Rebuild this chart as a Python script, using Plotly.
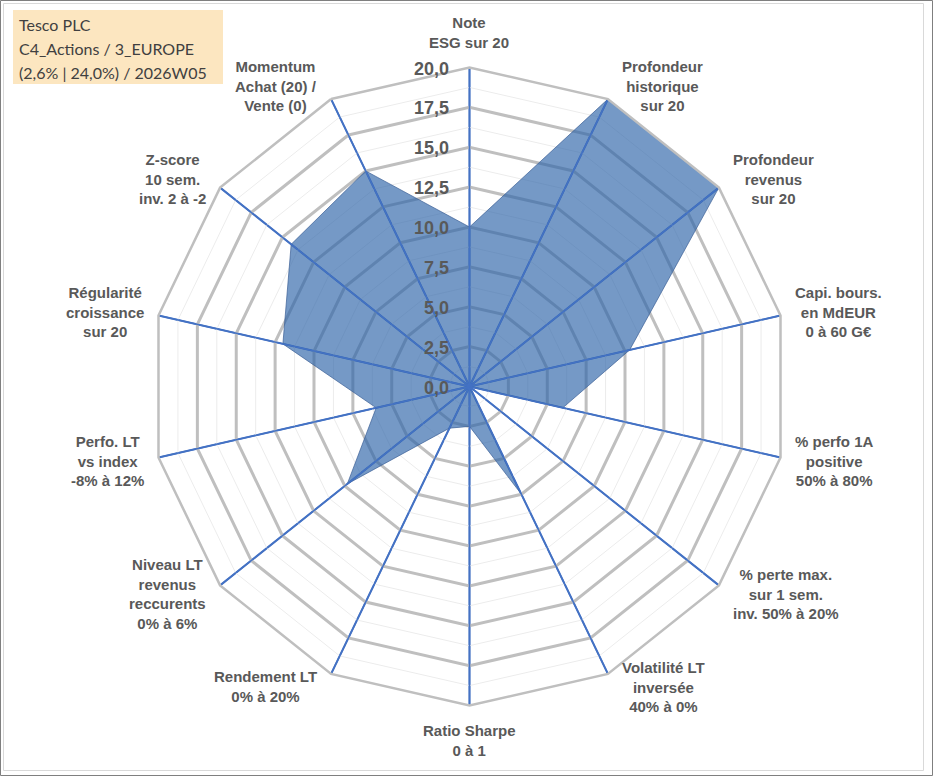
import math
import plotly.graph_objects as go

W, H = 933, 776

categories = [
    "Note<br>ESG sur 20",
    "Profondeur<br>historique<br>sur 20",
    "Profondeur<br>revenus<br>sur 20",
    "Capi. bours.<br>en MdEUR<br>0 à 60 G€",
    "% perfo 1A<br>positive<br>50% à 80%",
    "% perte max.<br>sur 1 sem.<br>inv. 50% à 20%",
    "Volatilité LT<br>inversée<br>40% à 0%",
    "Ratio Sharpe<br>0 à 1",
    "Rendement LT<br>0% à 20%",
    "Niveau LT<br>revenus<br>reccurents<br>0% à 6%",
    "Perfo. LT<br>vs index<br>-8% à 12%",
    "Régularité<br>croissance<br>sur 20",
    "Z-score<br>10 sem.<br>inv. 2 à -2",
    "Momentum<br>Achat (20) /<br>Vente (0)",
]
values = [10.0, 20.0, 20.0, 10.3, 6.0, 0.0, 7.5, 2.5, 2.9, 9.8, 6.0, 12.0, 14.3, 15.0]
radial_ticks = [0.0, 2.5, 5.0, 7.5, 10.0, 12.5, 15.0, 17.5, 20.0]
radial_tick_labels = ["0,0", "2,5", "5,0", "7,5", "10,0", "12,5", "15,0", "17,5", "20,0"]
minor_rings = [1.25, 3.75, 6.25, 8.75, 11.25, 13.75, 16.25, 18.75]
r_max = 20.0

title_lines = ["Tesco PLC", "C4_Actions / 3_EUROPE", "(2,6% | 24,0%) / 2026W05"]

fig = go.Figure()

# minor rings (thin light grey)
for rv in minor_rings:
    fig.add_trace(go.Scatterpolar(
        r=[rv] * (len(categories) + 1), theta=categories + categories[:1],
        mode="lines", line=dict(color="#ECECEC", width=1),
        hoverinfo="skip", showlegend=False))

# data polygon
fig.add_trace(go.Scatterpolar(
    r=values + values[:1], theta=categories + categories[:1],
    mode="lines", fill="toself",
    fillcolor="rgba(46,100,168,0.66)",
    line=dict(color="rgba(60,95,150,0.7)", width=1),
    hoverinfo="r+theta", showlegend=False))

# blue spokes on top
for c in categories:
    fig.add_trace(go.Scatterpolar(
        r=[0, r_max], theta=[c, c], mode="lines",
        line=dict(color="#4472C4", width=1.5),
        hoverinfo="skip", showlegend=False))

cx, cy, R = 469.5, 386.5, 319.0

annotations = []

# category labels placed just outside each spoke end (Excel-like, centred text)
label_font = dict(family="Liberation Sans", size=15, color="#595959", weight="bold")
N = len(categories)
for i, lab in enumerate(categories):
    th = 2 * math.pi * i / N
    sx, cu = math.sin(th), math.cos(th)
    vx, vy = cx + R * sx, cy - R * cu
    if abs(sx) < 0.01:
        x, xa = vx, "center"
        if cu > 0:
            y, ya = vy - 14, "bottom"
        else:
            y, ya = vy + 14, "top"
    else:
        x = vx + 12 * (1 if sx > 0 else -1)
        xa = "left" if sx > 0 else "right"
        y, ya = vy - 14 * cu, "middle"
    annotations.append(dict(
        xref="paper", yref="paper", x=x / W, y=1 - y / H,
        xanchor=xa, yanchor=ya, align="center", showarrow=False,
        text=lab, font=label_font))

# radial tick labels, left of the vertical spoke
for rv, txt in zip(radial_ticks, radial_tick_labels):
    y = cy - rv / r_max * R + 1
    annotations.append(dict(
        xref="paper", yref="paper", x=(cx - 19) / W, y=1 - y / H,
        xanchor="right", yanchor="middle", showarrow=False, text=txt,
        font=dict(family="Liberation Sans", size=18, color="#595959", weight="bold")))

# title box lines
for k, line in enumerate(title_lines):
    annotations.append(dict(
        xref="paper", yref="paper", x=17 / W, y=1 - (24 + 24 * k) / H,
        xanchor="left", yanchor="middle", align="left", showarrow=False,
        text=line, font=dict(family="Lato", size=16, color="#404040")))

fig.update_layout(
    width=W, height=H,
    margin=dict(l=0, r=0, t=0, b=0),
    paper_bgcolor="white",
    polar=dict(
        domain=dict(x=[(cx - R) / W, (cx + R) / W],
                    y=[(H - cy - R) / H, (H - cy + R) / H]),
        bgcolor="white",
        gridshape="linear",
        radialaxis=dict(
            range=[0, r_max], angle=90,
            tickvals=radial_ticks, showticklabels=False,
            showline=False, ticks="",
            gridcolor="#BFBFBF", gridwidth=2.5,
        ),
        angularaxis=dict(
            direction="clockwise", rotation=90,
            showline=True, linecolor="#BFBFBF", linewidth=2.5,
            gridcolor="#4472C4", gridwidth=1.5,
            ticks="", showticklabels=False,
        ),
    ),
    shapes=[
        dict(type="rect", xref="paper", yref="paper",
             x0=0.5 / W, x1=932.5 / W, y0=0.5 / H, y1=775.5 / H,
             line=dict(color="#7F7F7F", width=1)),
        dict(type="rect", xref="paper", yref="paper",
             x0=3.5 / W, x1=923.5 / W, y0=1 - 770.5 / H, y1=1 - 3.5 / H,
             line=dict(color="#D9D9D9", width=1)),
        dict(type="rect", xref="paper", yref="paper",
             x0=13 / W, x1=223 / W, y0=1 - 84 / H, y1=1 - 10 / H,
             fillcolor="#FCE6C0", line=dict(width=0), layer="below"),
    ],
    annotations=annotations,
)

fig.write_html("out.html", config={"displayModeBar": False},
               post_script="document.body.style.margin='0px';")
